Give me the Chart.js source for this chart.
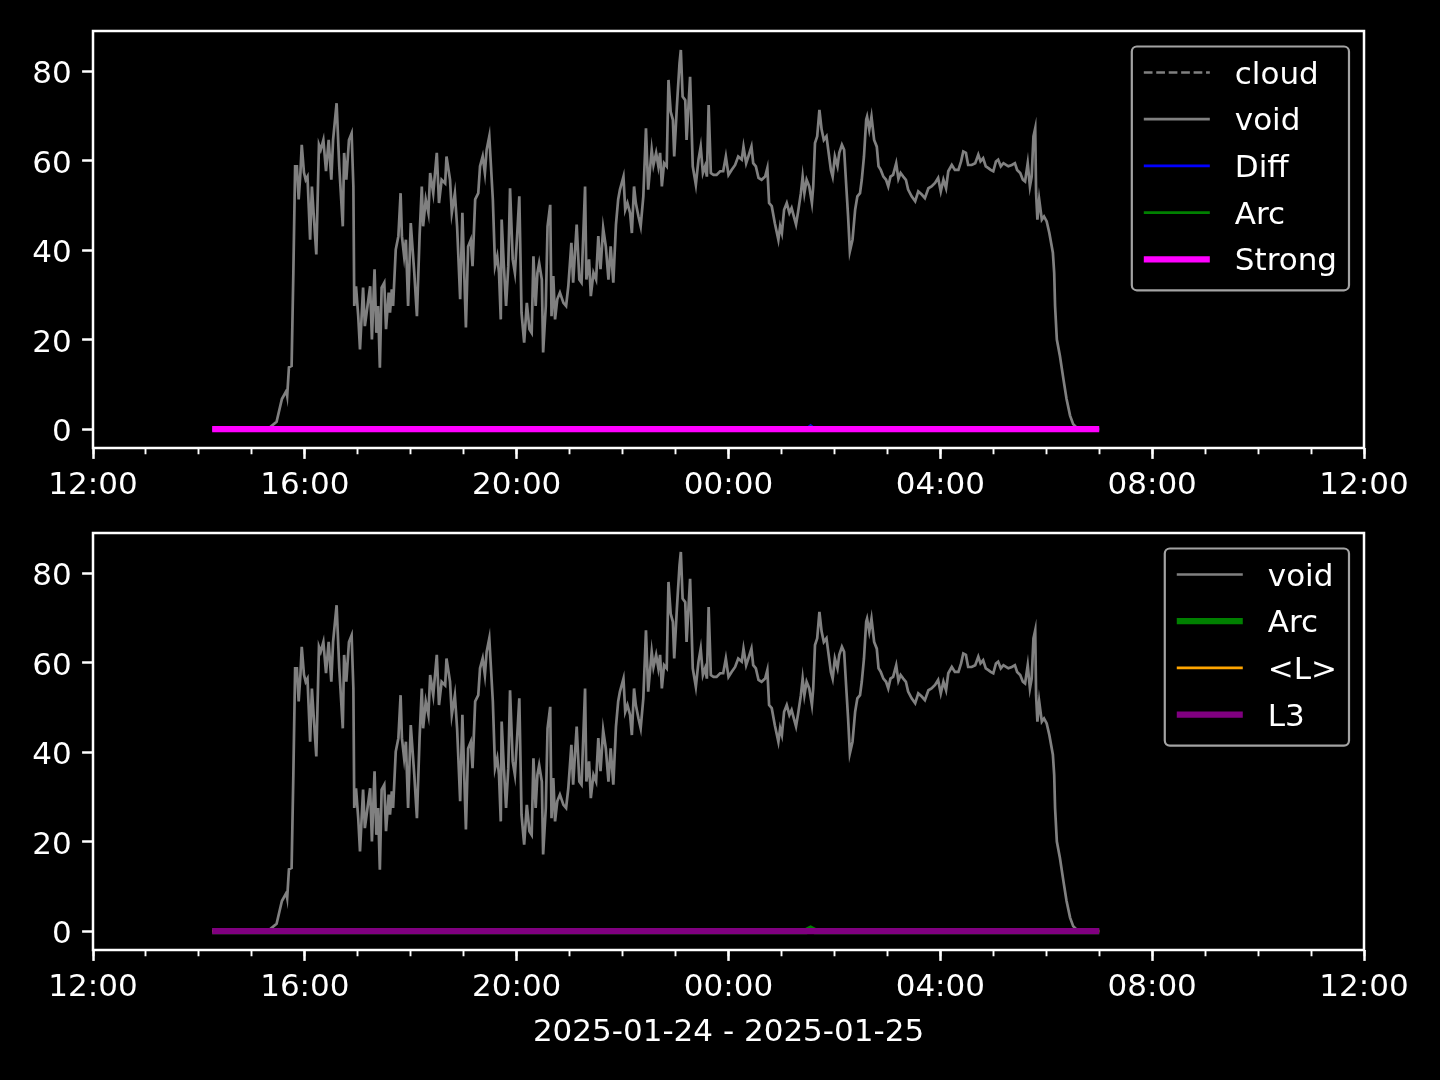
<!DOCTYPE html>
<html lang="en">
<head>
<meta charset="UTF-8">
<title>void</title>
<script src="https://cdn.jsdelivr.net/npm/chart.js"></script>
<style>
  html, body { margin: 0; padding: 0; background: #000; }
  canvas { position: absolute; left: 0; }
  #top { top: 0; }
  #bottom { top: 502px; }
</style>
</head>
<body>
<canvas id="top" width="1440" height="502"></canvas>
<canvas id="bottom" width="1440" height="578"></canvas>
<script>
// minutes after 2025-01-24 12:00
const voidMinutes = [
  135, 198, 208, 214, 219, 220, 222, 225, 227, 229,
  231, 233, 235, 236.5, 239, 241, 243, 246, 248, 253,
  256, 258, 261, 264, 267, 270, 272, 276, 279, 283,
  284.5, 287, 290, 293, 295, 296, 298, 300.5, 302.5, 306,
  308, 311, 314, 316, 319, 321, 323, 325, 327, 330,
  332, 335, 336.5, 338.5, 340, 343, 346, 348.5, 350, 352.5,
  354.5, 357, 360, 364, 367, 370, 372.5, 374, 377, 380,
  382, 385.5, 389.5, 392, 395, 399, 400.5, 404.5, 406.5, 410,
  412.5, 416, 418.5, 422.5, 425, 428, 430, 433, 436.5, 438.5,
  441.5, 444, 446, 449, 453, 455.5, 458, 460, 462, 463,
  465.5, 468, 470.5, 472.5, 475.5, 478, 480.5, 483, 485.5, 488.5,
  491.5, 494.5, 497, 499, 501.5, 503.5, 505.5, 508.5, 510, 513,
  515, 518, 519.5, 521.5, 523.5, 526, 529, 533, 536, 538.5,
  542, 544, 548, 551, 553.5, 557.5, 559, 562, 564, 567,
  570, 572.5, 575, 578, 581, 584, 586.5, 589.5, 592.5, 595,
  597, 601, 603, 605.5, 608.5, 610.5, 613, 615, 618, 620.5,
  623.5, 626.5, 629, 633, 635, 638, 640.5, 642.5, 644.5, 647,
  650, 652, 654.5, 657, 658.5, 661.5, 664.5, 666, 668, 671,
  672.5, 676.5, 679.5, 683, 686, 688.5, 691, 693.5, 695.5, 697.5,
  700, 703, 706.5, 710.5, 714, 717, 720, 723.5, 727.5, 731,
  735, 737, 740, 742.5, 746, 748, 751, 754, 757.5, 761.5,
  764, 766, 769, 772.5, 776.5, 778.5, 780.5, 783, 786, 789,
  791.5, 794, 796.5, 799, 802, 804, 806, 808.5, 811.5, 814.5,
  816, 818, 820.5, 823, 825.5, 828, 831, 833, 836, 838,
  840.5, 843.5, 845.5, 848.5, 851, 853, 855.5, 857.5, 860.5, 863.5,
  866, 869, 871, 873.5, 876, 877, 879.5, 882, 885, 888,
  890, 892.5, 895.5, 898.5, 901, 903.5, 906.5, 910, 912.5, 915,
  918, 921, 923.5, 927.5, 931.5, 935, 939, 942.5, 946.5, 950,
  954, 957.5, 960.5, 963.5, 966.5, 969, 973, 976.5, 980.5, 983.5,
  986, 989, 991.5, 995.5, 999.5, 1003, 1005.5, 1008.5, 1011.5, 1014.5,
  1017, 1020, 1023, 1025.5, 1028.5, 1031.5, 1034.5, 1037, 1041, 1044.5,
  1047, 1050.5, 1053.5, 1056, 1059, 1061.5, 1063.5, 1065.5, 1067.5, 1068.5,
  1070, 1072, 1075, 1077.5, 1080.5, 1083.5, 1087.5, 1089, 1090, 1092,
  1095.5, 1099.5, 1103, 1107, 1110.5, 1112.5, 1116, 1140
];
const voidValues = [
  0, 0, 1.6, 6.7, 8.5, 7.4, 13.8, 14.1, 35, 58.7,
  58.7, 51.3, 57.3, 63.5, 57.3, 55.7, 56.4, 42.3, 54.2, 39,
  63.5, 62.4, 64.6, 57.6, 64.6, 55.7, 64.6, 72.8, 58.7, 45.3,
  61.7, 55.7, 64.6, 66.1, 54.2, 27.5, 31.9, 25.2, 17.8, 31.6,
  23, 27.5, 31.9, 20, 35.7, 21.5, 27.5, 13.7, 31.6, 32.7,
  22.3, 30.5, 26, 31.2, 27.5, 40.1, 43.1, 52.7, 43.1, 38.6,
  42.3, 27.5, 46, 34.9, 25.2, 43.1, 54.2, 45.3, 51.3, 48.3,
  57.2, 52.7, 61.7, 50.5, 55.7, 54.9, 60.9, 55.7, 48.3, 52.7,
  45.3, 29, 48.3, 22.7, 40.8, 42.3, 36.4, 51.3, 52.7, 58.7,
  60.9, 57.2, 62.4, 65.4, 51.3, 36.4, 38.6, 34.9, 24.5, 46.8,
  36.4, 27.5, 36.4, 53.8, 37.9, 34.9, 43.1, 52, 26, 19.3,
  28.2, 22.3, 21.5, 38.6, 27.5, 34.9, 37.1, 33.4, 17.1, 27.5,
  45.3, 50.1, 25.2, 34.2, 24.5, 29, 30.5, 28.2, 27.5, 31.9,
  41.6, 32.7, 45.7, 33.4, 32.7, 54.2, 33.4, 37.9, 29.7, 34.9,
  33.4, 43.1, 35.7, 44.9, 40.8, 33.4, 40.8, 32.7, 45.7, 51.3,
  53.5, 56.4, 49, 50.5, 48.3, 43.8, 54.2, 50.5, 47.5, 45.3,
  52, 67.2, 53.5, 62.4, 59, 61.7, 58.7, 61.7, 54.2, 59.4,
  58.7, 78, 70.9, 69.1, 60.9, 72, 81.7, 84.7, 74.3, 73.5,
  64.6, 78.7, 58.7, 54.6, 60.2, 63.1, 57.2, 58.7, 56.4, 72.4,
  57.2, 56.8, 56.8, 57.6, 57.6, 60.9, 56.8, 57.9, 59, 60.9,
  60.2, 63.1, 59.4, 60.9, 63.1, 59.4, 58.7, 56.1, 55.7, 56.4,
  58.3, 50.5, 49.8, 46, 42.3, 45.3, 43.8, 49, 50.5, 48.3,
  49.4, 47.5, 45.7, 48.7, 52.7, 56.4, 52.7, 55.7, 54.2, 50.5,
  54.2, 63.9, 65.4, 71.3, 66.9, 64.6, 65.4, 62.4, 57.9, 56.4,
  60.9, 58.7, 61.7, 63.5, 62.4, 55.7, 47.5, 39.7, 42.3, 49,
  52, 52.7, 55.7, 60.9, 69.1, 69.8, 66.9, 69.8, 64.6, 63.1,
  58.7, 57.9, 56.4, 55.7, 54.2, 56.4, 56.8, 59.4, 55.9, 57.2,
  56.4, 55.7, 53.5, 52, 50.9, 53.1, 52.4, 51.6, 53.8, 54.2,
  55, 56.1, 53.1, 55.7, 53.8, 57.6, 59, 57.9, 57.9, 59.8,
  62, 61.7, 59, 59, 59.4, 61.3, 59.8, 60.5, 58.7, 58.3,
  57.9, 57.6, 59.8, 60.2, 58.7, 59.4, 59, 58.7, 59, 59.4,
  57.9, 57.2, 55.7, 55.3, 59.4, 54.2, 56.4, 65.4, 67.2, 52.7,
  46.8, 51.3, 46.8, 47.5, 46.4, 43.8, 39.4, 34.9, 27.5, 20,
  16.3, 11.1, 6.7, 3, 1.1, 0.7, 0, 0
];
const cloudMinutes = [];
const cloudValues = [];
const diffMinutes = [135, 808, 813, 818, 1140];
const diffValues = [0, 0, 0.8, 0, 0];
const arcMinutes = [135, 808, 813, 818, 1140];
const arcValues = [0, 0, 0.5, 0, 0];
const strongMinutes = [135, 1140];
const strongValues = [0, 0];
const lMinutes = [135, 1140];
const lValues = [0, 0];
const l3Minutes = [135, 1140];
const l3Values = [0, 0];

const yTicks = [0, 20, 40, 60, 80];
const xLabel = "2025-01-24 - 2025-01-25";

Chart.defaults.font.family = "DejaVu Sans";
Chart.defaults.font.size = 31;
Chart.defaults.color = "#fff";

function pts(times, values) {
    return times.map((t, i) => ({ x: t, y: values[i] }));
}

function clock(v) {
    const h = (12 + Math.floor(v / 60)) % 24;
    const m = Math.round(v % 60);
    return String(h).padStart(2, "0") + ":" + String(m).padStart(2, "0");
}

// box round the plot area, like the mpl spines
const frame = {
    id: "frame",
    afterDraw(chart) {
        const a = chart.chartArea, ctx = chart.ctx;
        ctx.save();
        ctx.strokeStyle = "#fff";
        ctx.lineWidth = 2.5;
        ctx.strokeRect(a.left, a.top, a.right - a.left, a.bottom - a.top);
        ctx.restore();
    }
};

// legend inside the axes, upper right
const mplLegend = {
    id: "mplLegend",
    afterDraw(chart) {
        const ctx = chart.ctx, a = chart.chartArea;
        const sets = chart.data.datasets;
        ctx.save();
        ctx.font = "31px 'DejaVu Sans'";
        const textW = Math.max(...sets.map(d => ctx.measureText(d.label).width));
        const w = 12 + 66 + 25 + textW + 12;
        const rowH = 46.7;
        const h = 26 + (sets.length - 1) * rowH + 31;
        const right = a.right - 15, top = a.top + 15.5;
        const left = right - w;
        ctx.beginPath();
        ctx.roundRect(left, top, w, h, 5);
        ctx.fillStyle = "rgba(0,0,0,0.8)";
        ctx.fill();
        ctx.strokeStyle = "rgba(204,204,204,0.8)";
        ctx.lineWidth = 2.2;
        ctx.stroke();
        sets.forEach((d, i) => {
            const y = top + 26 + i * rowH;
            ctx.beginPath();
            ctx.setLineDash(d.borderDash || []);
            ctx.strokeStyle = d.borderColor;
            ctx.lineWidth = d.borderWidth;
            ctx.moveTo(left + 12, y);
            ctx.lineTo(left + 78, y);
            ctx.stroke();
            ctx.setLineDash([]);
            ctx.fillStyle = "#fff";
            ctx.textBaseline = "alphabetic";
            ctx.fillText(d.label, left + 103, y + 11);
        });
        ctx.restore();
    }
};

function makeChart(id, sets, axisH, title) {
    const tickGrid = { drawOnChartArea: false, tickLength: 10.9, tickWidth: 2.5, tickColor: "#fff" };
    return new Chart(document.getElementById(id), {
        type: "line",
        data: {
            datasets: sets.map((s, i) => ({
                label: s.label,
                data: pts(s.t, s.v),
                borderColor: s.color,
                borderWidth: s.width,
                borderDash: s.dash || [],
                order: sets.length - i,
                pointRadius: 0,
                tension: 0,
                fill: false
            }))
        },
        options: {
            responsive: false,
            animation: false,
            layout: { padding: { left: 0, right: 76, top: 31, bottom: 0 } },
            plugins: { legend: { display: false }, tooltip: { enabled: false } },
            scales: {
                x: {
                    type: "linear", position: "bottom", min: 0, max: 1440, weight: 1,
                    afterFit: s => { s.height = axisH; },
                    border: { display: false },
                    grid: tickGrid,
                    ticks: { stepSize: 240, padding: 8.5, maxRotation: 0, autoSkip: false, includeBounds: false, callback: v => clock(v) },
                    title: title ? { display: true, text: title, padding: { top: 0, bottom: 28.4 } } : { display: false }
                },
                xMinor: {
                    type: "linear", position: "bottom", min: 0, max: 1440, weight: 0,
                    afterFit: s => { s.height = 0; },
                    border: { display: false },
                    grid: { drawOnChartArea: false, tickLength: 6.25, tickWidth: 1.9, tickColor: "#fff" },
                    ticks: { display: false, stepSize: 60, autoSkip: false }
                },
                y: {
                    min: -4.24, max: 88.94,
                    afterFit: s => { s.width = 93; },
                    afterBuildTicks: s => { s.ticks = yTicks.map(v => ({ value: v })); },
                    border: { display: false },
                    grid: tickGrid,
                    ticks: { padding: 10.5, labelOffset: 4 }
                }
            }
        },
        plugins: [frame, mplLegend]
    });
}

makeChart("top", [
    { label: "cloud", t: cloudMinutes, v: cloudValues, color: "#808080", width: 2.7, dash: [8.7, 3.75] },
    { label: "void", t: voidMinutes, v: voidValues, color: "#808080", width: 2.7 },
    { label: "Diff", t: diffMinutes, v: diffValues, color: "#0000ff", width: 2.7 },
    { label: "Arc", t: arcMinutes, v: arcValues, color: "#008000", width: 2.7 },
    { label: "Strong", t: strongMinutes, v: strongValues, color: "#ff00ff", width: 6.25 }
], 54, null);

makeChart("bottom", [
    { label: "void", t: voidMinutes, v: voidValues, color: "#808080", width: 2.7 },
    { label: "Arc", t: arcMinutes, v: arcValues, color: "#008000", width: 6.25 },
    { label: "<L>", t: lMinutes, v: lValues, color: "#ffa500", width: 2.7 },
    { label: "L3", t: l3Minutes, v: l3Values, color: "#800080", width: 6.25 }
], 130, xLabel);
</script>
</body>
</html>
